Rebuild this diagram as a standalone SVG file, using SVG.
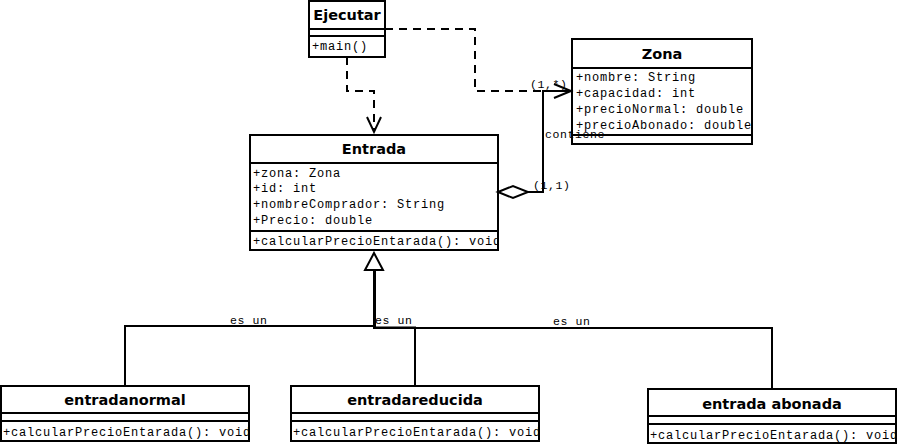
<svg xmlns="http://www.w3.org/2000/svg" width="897" height="445" viewBox="0 0 897 445">
<defs>
<style>
.box{fill:#fff;stroke:#000;stroke-width:2}
.sep{stroke:#000;stroke-width:2}
.title{font-family:"DejaVu Sans","Liberation Sans",sans-serif;font-weight:bold;font-size:14.5px;text-anchor:middle;fill:#000}
.mono{font-family:"Liberation Mono","Courier New",monospace;font-size:12px;letter-spacing:0.8px;fill:#000}
.lbl{font-family:"Liberation Mono","Courier New",monospace;font-size:11.5px;letter-spacing:0.6px;fill:#000}
.dash{fill:none;stroke:#000;stroke-width:2;stroke-dasharray:8 6}
.solid{fill:none;stroke:#000;stroke-width:2}
</style>
<clipPath id="cEntrada"><rect x="250" y="135" width="248" height="115"/></clipPath>
<clipPath id="cNormal"><rect x="1" y="386" width="248" height="55"/></clipPath>
<clipPath id="cReducida"><rect x="291" y="386" width="248" height="55"/></clipPath>
<clipPath id="cAbonada"><rect x="648" y="389" width="248" height="55"/></clipPath>
<clipPath id="cZona"><rect x="572" y="39" width="180" height="105"/></clipPath>
</defs>

<g id="Ejecutar">
  <rect class="box" x="309" y="1" width="76" height="56"/>
  <line class="sep" x1="309" y1="29" x2="385" y2="29"/>
  <line class="sep" x1="309" y1="36" x2="385" y2="36"/>
  <text class="title" x="347" y="20">Ejecutar</text>
  <text class="mono" x="312" y="50">+main()</text>
</g>

<g id="Zona">
  <rect class="box" x="572" y="39" width="180" height="105"/>
  <line class="sep" x1="572" y1="68" x2="752" y2="68"/>
  <line class="sep" x1="572" y1="135" x2="752" y2="135"/>
  <text class="title" x="662" y="59">Zona</text>
  <g clip-path="url(#cZona)">
    <text class="mono" x="576" y="81">+nombre: String</text>
    <text class="mono" x="576" y="97">+capacidad: int</text>
    <text class="mono" x="576" y="113">+precioNormal: double</text>
    <text class="mono" x="576" y="129">+precioAbonado: double</text>
  </g>
</g>

<g id="Entrada">
  <rect class="box" x="250" y="135" width="248" height="115"/>
  <line class="sep" x1="250" y1="163" x2="498" y2="163"/>
  <line class="sep" x1="250" y1="231" x2="498" y2="231"/>
  <text class="title" x="374" y="154">Entrada</text>
  <g clip-path="url(#cEntrada)">
    <text class="mono" x="253" y="177">+zona: Zona</text>
    <text class="mono" x="253" y="192">+id: int</text>
    <text class="mono" x="253" y="208">+nombreComprador: String</text>
    <text class="mono" x="253" y="224">+Precio: double</text>
    <text class="mono" x="253" y="245">+calcularPrecioEntarada(): void</text>
  </g>
</g>

<g id="entradanormal">
  <rect class="box" x="1" y="386" width="248" height="55"/>
  <line class="sep" x1="1" y1="413" x2="249" y2="413"/>
  <line class="sep" x1="1" y1="421" x2="249" y2="421"/>
  <text class="title" x="125" y="405">entradanormal</text>
  <g clip-path="url(#cNormal)">
    <text class="mono" x="3" y="436">+calcularPrecioEntarada(): void</text>
  </g>
</g>

<g id="entradareducida">
  <rect class="box" x="291" y="386" width="248" height="55"/>
  <line class="sep" x1="291" y1="413" x2="539" y2="413"/>
  <line class="sep" x1="291" y1="421" x2="539" y2="421"/>
  <text class="title" x="415" y="405">entradareducida</text>
  <g clip-path="url(#cReducida)">
    <text class="mono" x="293" y="436">+calcularPrecioEntarada(): void</text>
  </g>
</g>

<g id="entradaabonada">
  <rect class="box" x="648" y="389" width="248" height="54"/>
  <line class="sep" x1="648" y1="416" x2="896" y2="416"/>
  <line class="sep" x1="648" y1="424" x2="896" y2="424"/>
  <text class="title" x="772" y="409">entrada abonada</text>
  <g clip-path="url(#cAbonada)">
    <text class="mono" x="650" y="439">+calcularPrecioEntarada(): void</text>
  </g>
</g>

<g id="connectors">
  <path class="dash" d="M347,57 V91 H374 V130"/>
  <path class="solid" d="M367,117 L374,132 L381,117"/>
  <path class="dash" d="M385,29 H475 V91 H570"/>
  <path class="solid" d="M554,84 L571,91 L554,98"/>
  <path class="solid" d="M528,192 H543 V91 H571"/>
  <path d="M498,192 L513,186 L528,192 L513,198 Z" fill="#fff" stroke="#000" stroke-width="2"/>
  <text class="lbl" x="530" y="88">(1,*)</text>
  <text class="lbl" x="533" y="189">(1,1)</text>
  <text class="lbl" x="545" y="138">contiene</text>
  <path class="solid" d="M125,386 V326 H374 V270"/>
  <path class="solid" d="M415,386 V327.5 H375 V270"/>
  <path class="solid" d="M772,389 V328 H374 V270"/>
  <path d="M374,253 L383,270 L365,270 Z" fill="#fff" stroke="#000" stroke-width="2"/>
  <text class="lbl" x="230" y="324">es un</text>
  <text class="lbl" x="375" y="324">es un</text>
  <text class="lbl" x="553" y="325">es un</text>
</g>
</svg>
